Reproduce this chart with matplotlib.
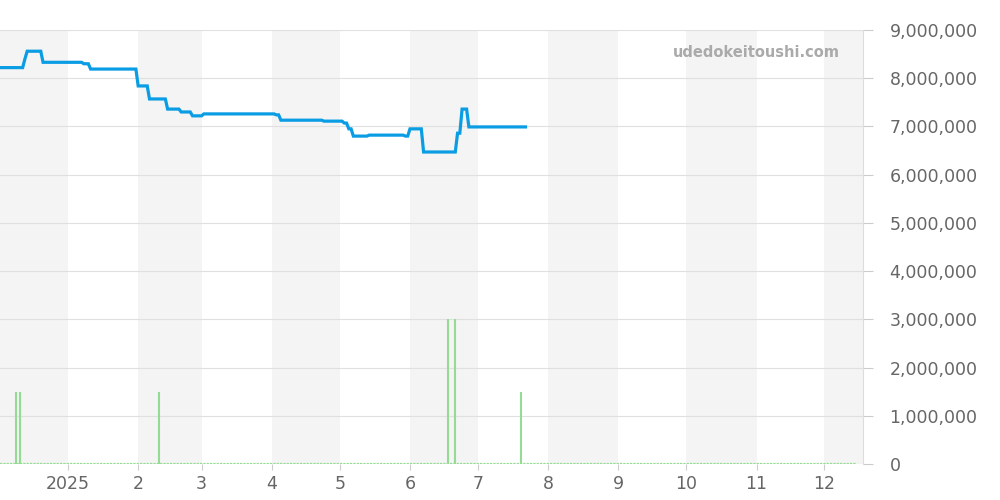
import numpy as np
import pandas as pd
import matplotlib
matplotlib.use('Agg')
import matplotlib.pyplot as plt
from matplotlib.ticker import FuncFormatter

# price line (change points, yen)
price_dates = ['2024-12-02', '2024-12-12', '2024-12-13', '2024-12-14', '2024-12-20', '2024-12-21',
               '2025-01-07', '2025-01-08', '2025-01-10', '2025-01-11', '2025-01-31', '2025-02-01',
               '2025-02-05', '2025-02-06', '2025-02-13', '2025-02-14', '2025-02-19', '2025-02-20',
               '2025-02-24', '2025-02-25', '2025-03-01', '2025-03-02', '2025-04-02', '2025-04-03',
               '2025-04-04', '2025-04-05', '2025-04-23', '2025-04-24', '2025-05-02', '2025-05-03',
               '2025-05-04', '2025-05-05', '2025-05-06', '2025-05-07', '2025-05-13', '2025-05-14',
               '2025-05-29', '2025-05-30', '2025-05-31', '2025-06-01', '2025-06-06', '2025-06-07',
               '2025-06-21', '2025-06-22', '2025-06-23', '2025-06-24', '2025-06-26', '2025-06-27',
               '2025-07-22']
price_vals = [8220000, 8220000, 8400000, 8560000, 8560000, 8330000,
              8330000, 8300000, 8300000, 8190000, 8190000, 7840000,
              7840000, 7570000, 7570000, 7360000, 7360000, 7300000,
              7300000, 7220000, 7220000, 7260000, 7260000, 7240000,
              7240000, 7130000, 7130000, 7110000, 7110000, 7070000,
              7070000, 6950000, 6950000, 6800000, 6800000, 6820000,
              6820000, 6800000, 6800000, 6950000, 6950000, 6470000,
              6470000, 6860000, 6860000, 7360000, 7360000, 6990000,
              6990000]

# volume bars
vol_dates = ['2024-12-09', '2024-12-11', '2025-02-10', '2025-06-18', '2025-06-21', '2025-07-20']
vol_vals = [1500000, 1500000, 1500000, 3000000, 3000000, 1500000]
vol_range = ['2024-12-02', '2025-12-15']

y_ticks = [0, 1000000, 2000000, 3000000, 4000000, 5000000, 6000000, 7000000, 8000000, 9000000]
month_starts = pd.date_range('2024-12-01', '2026-01-01', freq='MS')

fig = plt.figure(figsize=(10, 5), dpi=100)
ax = fig.add_axes([0.0, 0.072, 0.863, 0.868])

x0 = pd.Timestamp('2024-12-02')
x1 = pd.Timestamp('2025-12-18')

# alternating month bands
for i in range(len(month_starts) - 1):
    if i % 2 == 0:
        ax.axvspan(month_starts[i], month_starts[i + 1], color='#f4f4f4', lw=0, zorder=0)

for v in y_ticks:
    ax.axhline(v, color='#e0e0e0', lw=0.8, zorder=1)

ax.vlines(pd.to_datetime(vol_dates), 0, vol_vals, color='#94dc94', lw=1.5, zorder=2)
ax.plot(pd.to_datetime(vol_range), [0, 0], color='#94dc94', lw=1.6, ls=(0, (1, 0.5)), zorder=2)

ax.plot(pd.to_datetime(price_dates), price_vals, color='#0a9de4', lw=2.3,
        solid_joinstyle='miter', zorder=3)

ax.set_xlim(x0, x1)
ax.set_ylim(0, 9000000)
ax.set_yticks(y_ticks)
ax.yaxis.tick_right()
ax.yaxis.set_major_formatter(FuncFormatter(lambda v, p: f'{int(v):,}'))

ticks = month_starts[1:-1]
ax.set_xticks(ticks)
ax.set_xticklabels(['2025' if d.month == 1 else str(d.month) for d in ticks])

ax.tick_params(axis='y', length=7, color='#cccccc', labelcolor='#666666', labelsize=12.5, pad=12)
ax.tick_params(axis='x', length=4, color='#cccccc', labelcolor='#666666', labelsize=12.5, pad=4)

for s in ['top', 'left', 'bottom']:
    ax.spines[s].set_visible(False)
ax.spines['right'].set_color('#dddddd')

ax.text(0.973, 0.948, 'udedokeitoushi.com', transform=ax.transAxes, ha='right', va='center',
        fontsize=10.5, fontweight='bold', color='#aaaaaa', zorder=4)

fig.savefig('out.png', dpi=100)
